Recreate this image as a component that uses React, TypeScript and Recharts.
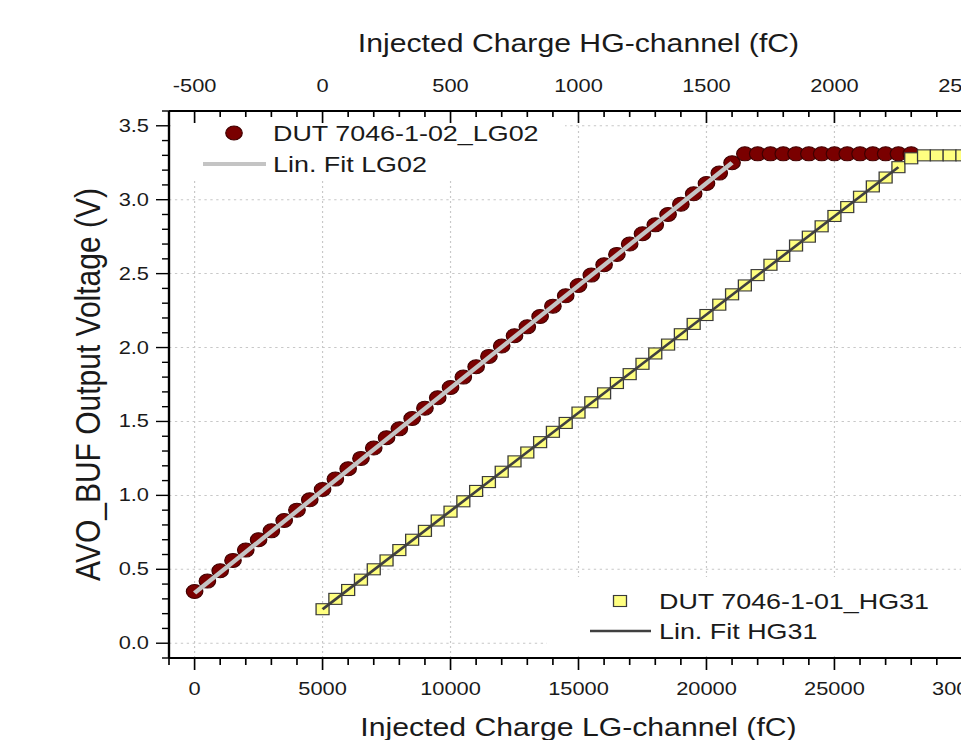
import React from 'react';
import { ScatterChart, Scatter, XAxis, YAxis, CartesianGrid } from 'recharts';

// DUT 7046-1-02, LG-channel: injected charge (fC) -> AVO_BUF output (V)
const lgCharge = [
  0, 500, 1000, 1500, 2000, 2500, 3000, 3500, 4000, 4500,
  5000, 5500, 6000, 6500, 7000, 7500, 8000, 8500, 9000, 9500,
  10000, 10500, 11000, 11500, 12000, 12500, 13000, 13500, 14000, 14500,
  15000, 15500, 16000, 16500, 17000, 17500, 18000, 18500, 19000, 19500,
  20000, 20500, 21000, 21500, 22000, 22500, 23000, 23500, 24000, 24500,
  25000, 25500, 26000, 26500, 27000, 27500, 28000,
];
const lgVoltage = [
  0.35, 0.42, 0.49, 0.56, 0.63, 0.70, 0.76, 0.83, 0.90, 0.97,
  1.04, 1.11, 1.18, 1.25, 1.32, 1.39, 1.45, 1.52, 1.59, 1.66,
  1.73, 1.80, 1.87, 1.94, 2.01, 2.08, 2.14, 2.21, 2.28, 2.35,
  2.42, 2.49, 2.56, 2.63, 2.70, 2.77, 2.83, 2.90, 2.97, 3.04,
  3.11, 3.18, 3.25, 3.31, 3.31, 3.31, 3.31, 3.31, 3.31, 3.31,
  3.31, 3.31, 3.31, 3.31, 3.31, 3.31, 3.31,
];

// DUT 7046-1-01, HG-channel: injected charge (fC) -> AVO_BUF output (V)
const hgCharge = [
  0, 50, 100, 150, 200, 250, 300, 350, 400, 450,
  500, 550, 600, 650, 700, 750, 800, 850, 900, 950,
  1000, 1050, 1100, 1150, 1200, 1250, 1300, 1350, 1400, 1450,
  1500, 1550, 1600, 1650, 1700, 1750, 1800, 1850, 1900, 1950,
  2000, 2050, 2100, 2150, 2200, 2250, 2300, 2350, 2400, 2450, 2500,
];
const hgVoltage = [
  0.23, 0.30, 0.36, 0.43, 0.50, 0.56, 0.63, 0.70, 0.76, 0.83,
  0.89, 0.96, 1.03, 1.09, 1.16, 1.23, 1.29, 1.36, 1.43, 1.49,
  1.56, 1.63, 1.69, 1.76, 1.82, 1.89, 1.96, 2.02, 2.09, 2.16,
  2.22, 2.29, 2.36, 2.42, 2.49, 2.56, 2.62, 2.69, 2.75, 2.82,
  2.89, 2.95, 3.02, 3.09, 3.15, 3.22, 3.28, 3.30, 3.30, 3.30, 3.30,
];

// linear fits, start and end points
const lgFitCharge = [0, 21000];
const lgFitVoltage = [0.34, 3.25];
const hgFitCharge = [0, 2250];
const hgFitVoltage = [0.23, 3.22];

const lgTickLabels = [0, 5000, 10000, 15000, 20000, 25000, 30000];
const hgTickLabels = [-500, 0, 500, 1000, 1500, 2000, 2500];
const voltTickLabels = [0, 0.5, 1, 1.5, 2, 2.5, 3, 3.5];

// minor ticks
const lgTicks = Array.from({ length: 33 }, (_, i) => -1000 + i * 1000);
const hgTicks = Array.from({ length: 33 }, (_, i) => -600 + i * 100);
const voltTicks = Array.from({ length: 38 }, (_, i) => (i - 1) / 10);

const lgData = lgCharge.map((x, i) => ({ x, y: lgVoltage[i] }));
const hgData = hgCharge.map((x, i) => ({ x, y: hgVoltage[i] }));
const lgFit = lgFitCharge.map((x, i) => ({ x, y: lgFitVoltage[i] }));
const hgFit = hgFitCharge.map((x, i) => ({ x, y: hgFitVoltage[i] }));

// the original export is stretched horizontally
const STRETCH = 1.18;
const px = (v: number) => v / STRETCH;

const CW = Math.round(px(1000));
const CH = 760;
const FONT = '"Liberation Sans", Arial, sans-serif';
const INK = '#1a1a1a';

const tickText = { fontFamily: FONT, fontSize: 18.5, fill: INK };
const titleText = { fontFamily: FONT, fontSize: 25.6, fill: INK };
const yTitleText = { fontFamily: FONT, fontSize: 30, fill: INK };
const legendText = { fontFamily: FONT, fontSize: 22.8, fill: INK };

const BottomTick = (props: any) => {
  const { x, y, payload } = props;
  const major = lgTickLabels.includes(payload.value);
  return (
    <g>
      <line x1={x} x2={x} y1={y} y2={y + (major ? 12 : 7)} stroke="#000" strokeWidth={1.4} />
      {major && (
        <text x={x} y={y + 37} textAnchor="middle" style={tickText}>{payload.value}</text>
      )}
    </g>
  );
};

const TopTick = (props: any) => {
  const { x, y, payload } = props;
  const major = hgTickLabels.includes(payload.value);
  return (
    <g>
      <line x1={x} x2={x} y1={y} y2={y + (major ? 12 : 6)} stroke="#000" strokeWidth={1.4} />
      {major && (
        <text x={x} y={y - 19} textAnchor="middle" style={tickText}>{payload.value}</text>
      )}
    </g>
  );
};

const LeftTick = (props: any) => {
  const { x, y, payload } = props;
  const major = voltTickLabels.some((t) => Math.abs(t - payload.value) < 1e-6);
  return (
    <g>
      <line x1={x} x2={x - px(major ? 13 : 7)} y1={y} y2={y} stroke="#000" strokeWidth={1.4} />
      {major && (
        <text x={x - px(20)} y={y + 6} textAnchor="end" style={tickText}>{payload.value.toFixed(1)}</text>
      )}
    </g>
  );
};

const bottomTitle = (props: any) => {
  const { x, y, width } = props.viewBox;
  return <text x={x + width / 2} y={y + 78} textAnchor="middle" style={titleText}>Injected Charge LG-channel (fC)</text>;
};

const topTitle = (props: any) => {
  const { x, y, width, height } = props.viewBox;
  return <text x={x + width / 2} y={y + height - 59} textAnchor="middle" style={titleText}>Injected Charge HG-channel (fC)</text>;
};

const leftTitle = (props: any) => {
  const { y, height } = props.viewBox;
  const cx = px(100);
  const cy = y + height / 2;
  return (
    <text x={cx} y={cy} textAnchor="middle" transform={`rotate(-90, ${cx}, ${cy})`} style={yTitleText}>
      AVO_BUF Output Voltage (V)
    </text>
  );
};

const Dot = (props: any) => (
  <circle cx={props.cx} cy={props.cy} r={7} fill="#7a0000" stroke="#400000" strokeWidth={1} />
);

const Box = (props: any) => (
  <rect x={props.cx - 5.5} y={props.cy - 5.5} width={11} height={11} fill="#ffff80" stroke="#3a3a3a" strokeWidth={1.1} />
);

const NoMark = () => <g />;

const Legends = () => (
  <svg width={CW} height={CH} style={{ position: 'absolute', left: 0, top: 0, pointerEvents: 'none' }}>
    <rect x={px(171)} y={124} width={px(565) - px(171)} height={56} fill="#fff" />
    <circle cx={px(234)} cy={133} r={7} fill="#7a0000" stroke="#400000" strokeWidth={1} />
    <text x={px(273)} y={141} style={legendText}>DUT 7046-1-02_LG02</text>
    <line x1={px(203)} x2={px(266)} y1={164} y2={164} stroke="#c4c4c4" strokeWidth={4} />
    <text x={px(273)} y={172} style={legendText}>Lin. Fit LG02</text>

    <rect x={px(547)} y={577} width={CW - px(547)} height={79} fill="#fff" />
    <rect x={px(620) - 5.5} y={595.5} width={11} height={11} fill="#ffff80" stroke="#3a3a3a" strokeWidth={1.1} />
    <text x={px(659)} y={609} style={legendText}>DUT 7046-1-01_HG31</text>
    <line x1={px(590)} x2={px(651)} y1={631} y2={631} stroke="#404040" strokeWidth={2.5} />
    <text x={px(659)} y={639} style={legendText}>Lin. Fit HG31</text>
  </svg>
);

const App: React.FC = () => (
  <div style={{ position: 'absolute', left: 0, top: 0, width: 961, height: 740, overflow: 'hidden', background: '#fff' }}>
    <div style={{ position: 'relative', width: CW, height: CH, transform: `scaleX(${STRETCH})`, transformOrigin: '0 0' }}>
      <ScatterChart width={CW} height={CH} margin={{ top: 0, right: CW - px(988), bottom: 0, left: 0 }}>
        <CartesianGrid
          xAxisId="lg"
          verticalValues={lgTickLabels}
          horizontalValues={voltTickLabels}
          stroke="#c8c8c8"
          strokeDasharray="2 3"
        />
        <XAxis
          xAxisId="lg"
          dataKey="x"
          type="number"
          orientation="bottom"
          domain={[-1000, 31000]}
          allowDataOverflow
          ticks={lgTicks}
          interval={0}
          height={102}
          tickSize={0}
          tickMargin={0}
          tick={<BottomTick />}
          axisLine={{ stroke: '#000', strokeWidth: 2 }}
          label={{ content: bottomTitle }}
        />
        <XAxis
          xAxisId="hg"
          dataKey="x"
          type="number"
          orientation="top"
          domain={[-600, 2600]}
          allowDataOverflow
          ticks={hgTicks}
          interval={0}
          height={111}
          tickSize={0}
          tickMargin={0}
          tick={<TopTick />}
          axisLine={{ stroke: '#000', strokeWidth: 2 }}
          label={{ content: topTitle }}
        />
        <YAxis
          dataKey="y"
          type="number"
          domain={[-0.1, 3.6]}
          allowDataOverflow
          ticks={voltTicks}
          interval={0}
          width={px(169)}
          tickSize={0}
          tickMargin={0}
          tick={<LeftTick />}
          axisLine={{ stroke: '#000', strokeWidth: 2 }}
          label={{ content: leftTitle }}
        />
        <Scatter name="DUT 7046-1-02_LG02" data={lgData} xAxisId="lg" shape={Dot} isAnimationActive={false} />
        <Scatter
          name="Lin. Fit LG02"
          data={lgFit}
          xAxisId="lg"
          shape={NoMark}
          line={{ stroke: '#c4c4c4', strokeWidth: 4 }}
          isAnimationActive={false}
        />
        <Scatter name="DUT 7046-1-01_HG31" data={hgData} xAxisId="hg" shape={Box} isAnimationActive={false} />
        <Scatter
          name="Lin. Fit HG31"
          data={hgFit}
          xAxisId="hg"
          shape={NoMark}
          line={{ stroke: '#404040', strokeWidth: 2.5 }}
          isAnimationActive={false}
        />
      </ScatterChart>
      <Legends />
    </div>
  </div>
);

export default App;
